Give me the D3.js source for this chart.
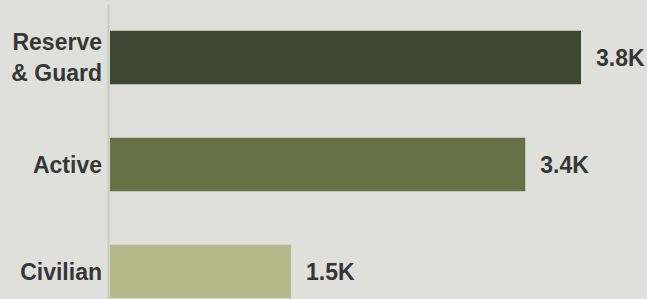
<!DOCTYPE html>
<html>
<head>
<meta charset="utf-8">
<script src="https://cdn.jsdelivr.net/npm/d3@7"></script>
<style>
  html, body { margin: 0; padding: 0; background: #dfe0dc; }
  svg { display: block; font-family: "Liberation Sans", Arial, sans-serif; }
</style>
</head>
<body>
<svg id="chart" width="647" height="299"></svg>
<script>
// data
var categories = ["Reserve & Guard", "Active", "Civilian"];
var labelLines = [["Reserve", "& Guard"], ["Active"], ["Civilian"]];
var values = [3845, 3390, 1478];
var valueLabels = ["3.8K", "3.4K", "1.5K"];
var barColors = ["#3d4731", "#687046", "#b4b98a"];

var WIDTH = 647, HEIGHT = 299;
var AXIS_X = 108;

var svg = d3.select("#chart");

var y = d3.scaleBand()
	.domain(categories)
	.range([4, 325])
	.paddingInner(0.5)
	.paddingOuter(0.25);

var x = d3.scaleLinear()
	.domain([0, 4000])
	.range([110, 600]);

var color = d3.scaleOrdinal().domain(categories).range(barColors);

var rows = categories.map(function(c, i) {
	return {name: c, value: values[i], label: valueLabels[i], lines: labelLines[i]};
});

// bars
svg.append("g").selectAll("rect")
	.data(rows)
	.enter().append("rect")
	.attr("x", x(0))
	.attr("y", function(d) { return y(d.name); })
	.attr("width", function(d) { return x(d.value) - x(0); })
	.attr("height", y.bandwidth())
	.attr("fill", function(d) { return color(d.name); });

// category axis
var axis = svg.append("g")
	.attr("transform", "translate(" + AXIS_X + ",0)")
	.call(d3.axisLeft(y).tickSize(0).tickSizeOuter(0).tickPadding(6));

axis.select(".domain")
	.attr("stroke", "#c9cac5")
	.attr("stroke-width", 2);

axis.selectAll(".tick text")
	.attr("fill", "#363636")
	.attr("font-size", "23px")
	.attr("font-weight", "bold")
	.attr("font-family", "'Liberation Sans', Arial, sans-serif")
	.each(function(name, i) {
		var lines = labelLines[categories.indexOf(name)];
		var t = d3.select(this).text(null).attr("dy", null);
		var lh = 31;
		var start = -(lines.length - 1) * lh / 2;
		lines.forEach(function(line, k) {
			t.append("tspan")
				.attr("x", -6)
				.attr("y", start + k * lh)
				.attr("dy", "0.35em")
				.text(line);
		});
	});

// value labels
svg.append("g").selectAll("text")
	.data(rows)
	.enter().append("text")
	.attr("x", function(d) { return x(d.value) + 15; })
	.attr("y", function(d) { return y(d.name) + y.bandwidth() / 2; })
	.attr("dy", "0.35em")
	.attr("fill", "#363636")
	.attr("font-size", "23px")
	.attr("font-weight", "bold")
	.text(function(d) { return d.label; });
</script>
</body>
</html>
